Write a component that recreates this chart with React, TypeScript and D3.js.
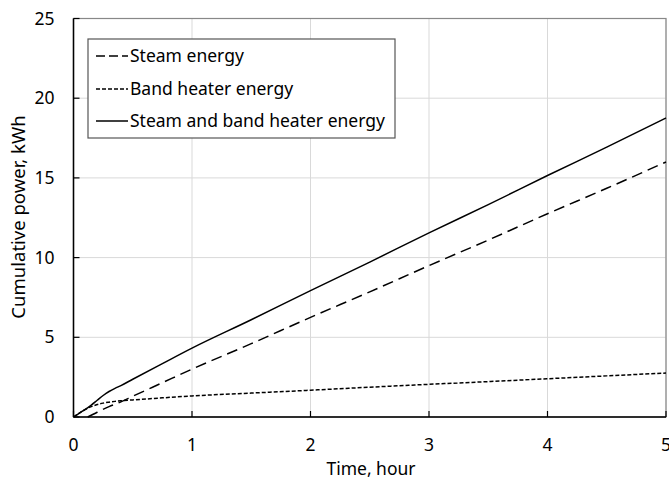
import React from "react";
import * as d3 from "d3";

const xTicks = [0, 1, 2, 3, 4, 5];
const yTicks = [0, 5, 10, 15, 20, 25];

const steamTime = [0.12, 0.2, 0.3, 0.4, 0.5, 0.75, 1, 1.5, 2, 2.5, 3, 3.5, 4, 4.5, 5];
const steamValues = [0, 0.3, 0.65, 0.95, 1.3, 2.15, 3.0, 4.6, 6.25, 7.85, 9.5, 11.1, 12.75, 14.35, 16.0];

const time = [0, 0.05, 0.1, 0.15, 0.2, 0.25, 0.3, 0.35, 0.4, 0.5, 0.75, 1, 1.5, 2, 2.5, 3, 3.5, 4, 4.5, 5];
const bandValues = [0, 0.25, 0.48, 0.65, 0.78, 0.87, 0.93, 0.98, 1.02, 1.07, 1.2, 1.32, 1.5, 1.68, 1.87, 2.05, 2.22, 2.4, 2.58, 2.76];
const totalValues = [0, 0.25, 0.48, 0.75, 1.05, 1.35, 1.6, 1.8, 1.97, 2.37, 3.35, 4.32, 6.1, 7.93, 9.72, 11.55, 13.32, 15.15, 16.93, 18.76];

const legendLabels = ["Steam energy", "Band heater energy", "Steam and band heater energy"];

export default function App() {
  const W = 669, H = 480;
  const left = 73.5, right = 666, top = 18.5, bottom = 417;
  const x = d3.scaleLinear().domain([0, 5]).range([left, right]);
  const y = d3.scaleLinear().domain([0, 25]).range([bottom, top]);
  const line = d3.line<[number, number]>().x(d => x(d[0])).y(d => y(d[1])).curve(d3.curveMonotoneX);
  const steamPts = steamTime.map((t, i) => [t, steamValues[i]] as [number, number]);
  const bandPts = time.map((t, i) => [t, bandValues[i]] as [number, number]);
  const totalPts = time.map((t, i) => [t, totalValues[i]] as [number, number]);
  const font = "'Noto Sans', 'Open Sans', sans-serif";
  const dashes = ["11,6", "4,2", ""];
  const legX = 88, legY = 39, legW = 307, legH = 99;
  const rowY = [56, 89, 121];
  const fs = 17.5;

  return (
    <svg width={W} height={H} style={{ position: "absolute", left: 0, top: 0, background: "#fff" }} fontFamily={font}>
      <rect x={0} y={0} width={W} height={H} fill="#fff" />
      {xTicks.slice(1).map(t => (
        <line key={"gx" + t} x1={x(t)} x2={x(t)} y1={top} y2={bottom} stroke="#d9d9d9" strokeWidth={1} />
      ))}
      {yTicks.slice(1).map(t => (
        <line key={"gy" + t} x1={left} x2={right} y1={y(t)} y2={y(t)} stroke="#d9d9d9" strokeWidth={1} />
      ))}
      <rect x={left} y={top} width={right - left} height={bottom - top} fill="none" stroke="#888" strokeWidth={1.2} />
      <line x1={left} x2={left} y1={top} y2={bottom} stroke="#000" strokeWidth={1.5} />
      <line x1={left} x2={right} y1={bottom} y2={bottom} stroke="#000" strokeWidth={1.5} />
      {xTicks.map(t => (
        <g key={"xt" + t}>
          <line x1={x(t)} x2={x(t)} y1={bottom} y2={bottom - 6} stroke="#000" strokeWidth={1.2} />
          <text x={x(t)} y={bottom + 34} textAnchor="middle" fontSize={fs} fill="#000">{t}</text>
        </g>
      ))}
      {yTicks.map(t => (
        <g key={"yt" + t}>
          <line x1={left} x2={left + 6} y1={y(t)} y2={y(t)} stroke="#000" strokeWidth={1.2} />
          <text x={left - 19} y={y(t) + 6} textAnchor="end" fontSize={fs} fill="#000">{t}</text>
        </g>
      ))}
      <text x={371} y={475} textAnchor="middle" fontSize={fs} fill="#000">Time, hour</text>
      <text transform={`translate(25,217) rotate(-90)`} textAnchor="middle" fontSize={18.5} fill="#000">Cumulative power, kWh</text>

      <path d={line(steamPts) || ""} fill="none" stroke="#000" strokeWidth={1.5} strokeDasharray={dashes[0]} />
      <path d={line(bandPts) || ""} fill="none" stroke="#000" strokeWidth={1.5} strokeDasharray={dashes[1]} />
      <path d={line(totalPts) || ""} fill="none" stroke="#000" strokeWidth={1.5} />

      <rect x={legX} y={legY} width={legW} height={legH} fill="#fff" stroke="#555" strokeWidth={1.2} />
      {legendLabels.map((lab, i) => (
        <g key={lab}>
          <line x1={96} x2={128} y1={rowY[i]} y2={rowY[i]} stroke="#000" strokeWidth={1.5} strokeDasharray={i === 0 ? "9,4" : dashes[i]} />
          <text x={130} y={rowY[i] + 6} fontSize={fs} fill="#000">{lab}</text>
        </g>
      ))}
    </svg>
  );
}
